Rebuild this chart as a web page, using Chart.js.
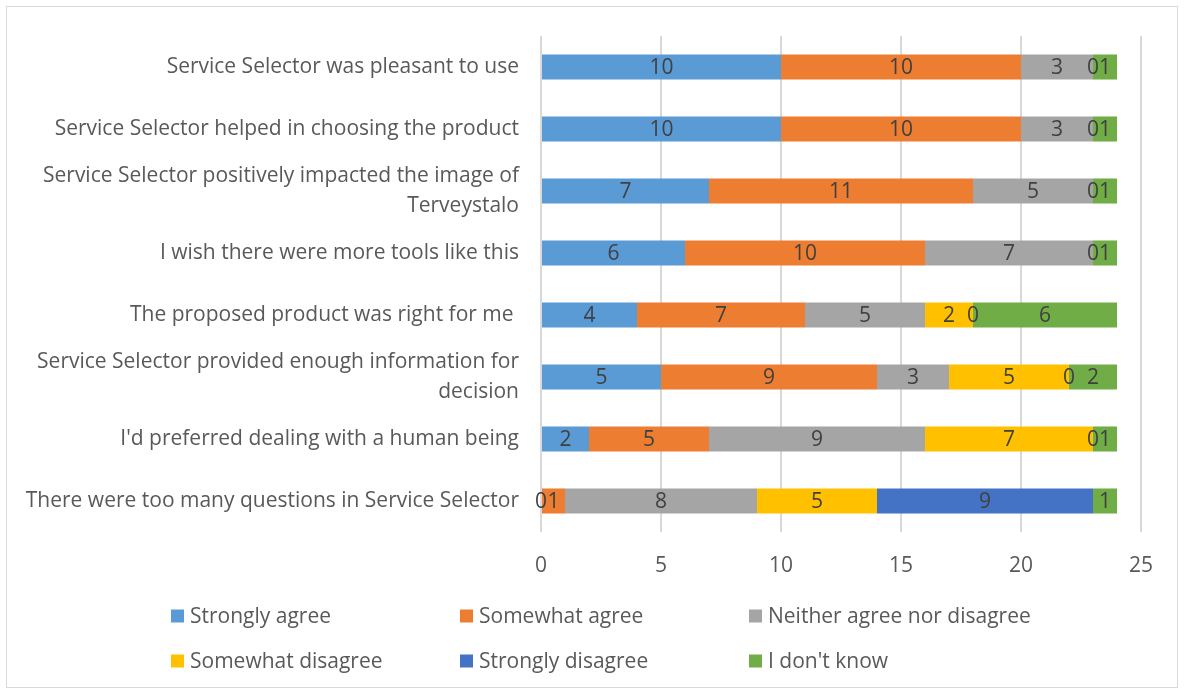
<!DOCTYPE html>
<html>
<head>
<meta charset="utf-8">
<script src="https://cdn.jsdelivr.net/npm/chart.js@4/dist/chart.umd.min.js"></script>
<style>
  html, body { margin: 0; padding: 0; background: #fff; }
  #frame {
    position: absolute; left: 6px; top: 6px;
    width: 1172px; height: 682px;
    border: 1px solid #d9d9d9; box-sizing: border-box;
  }
  #chart { display: block; }
</style>
</head>
<body>
<div id="frame"><canvas id="chart" width="1170" height="680"></canvas></div>
<script>
// survey statements, top to bottom
const categories = [
  'Service Selector was pleasant to use',
  'Service Selector helped in choosing the product',
  ['Service Selector positively impacted the image of', 'Terveystalo'],
  'I wish there were more tools like this',
  'The proposed product was right for me ',
  ['Service Selector provided enough information for', 'decision'],
  "I'd preferred dealing with a human being",
  'There were too many questions in Service Selector'
];

const seriesNames = ['Strongly agree', 'Somewhat agree', 'Neither agree nor disagree',
  'Somewhat disagree', 'Strongly disagree', "I don't know"];

const stronglyAgree    = [10, 10, 7, 6, 4, 5, 2, 0];
const somewhatAgree    = [10, 10, 11, 10, 7, 9, 5, 1];
const neitherAgree     = [3, 3, 5, 7, 5, 3, 9, 8];
const somewhatDisagree = [null, null, null, null, 2, 5, 7, 5];
const stronglyDisagree = [0, 0, 0, 0, 0, 0, 0, 9];
const dontKnow         = [1, 1, 1, 1, 6, 2, 1, 1];

const xTicks = [0, 5, 10, 15, 20, 25];

const colors = ['#5B9BD5', '#ED7D31', '#A5A5A5', '#FFC000', '#4472C4', '#70AD47'];
const FONT = '"Open Sans", "Noto Sans", sans-serif';
const SIZE = 21;

// value labels in the middle of each segment (zeros too, like Excel)
const valueLabels = {
  id: 'valueLabels',
  afterDatasetsDraw(chart) {
    const ctx = chart.ctx;
    ctx.save();
    ctx.font = SIZE + 'px ' + FONT;
    ctx.fillStyle = '#404040';
    ctx.textAlign = 'center';
    ctx.textBaseline = 'middle';
    chart.data.datasets.forEach((ds, i) => {
      chart.getDatasetMeta(i).data.forEach((bar, j) => {
        const v = ds.data[j];
        if (v === null || v === undefined) return;
        const p = bar.getProps(['x', 'y', 'base'], true);
        ctx.fillText(String(v), (p.x + p.base) / 2, p.y + 1);
      });
    });
    ctx.restore();
  }
};

// legend laid out as a 3-column grid under the axis
const gridLegend = {
  id: 'gridLegend',
  afterDraw(chart) {
    const ctx = chart.ctx;
    const colW = 289, rowH = 45, box = 13;
    const left = chart.width / 2 - 421;
    const top = chart.chartArea.bottom + 84;
    ctx.save();
    ctx.font = SIZE + 'px ' + FONT;
    ctx.textBaseline = 'middle';
    ctx.textAlign = 'left';
    chart.data.datasets.forEach((ds, i) => {
      const x = left + (i % 3) * colW;
      const y = top + Math.floor(i / 3) * rowH;
      ctx.fillStyle = ds.backgroundColor;
      ctx.fillRect(x, y - box / 2, box, box);
      ctx.fillStyle = '#595959';
      ctx.fillText(ds.label, x + box + 6, y + 1);
    });
    ctx.restore();
  }
};

const seriesData = [stronglyAgree, somewhatAgree, neitherAgree, somewhatDisagree, stronglyDisagree, dontKnow];

new Chart(document.getElementById('chart'), {
  type: 'bar',
  data: {
    labels: categories,
    datasets: seriesNames.map((name, i) => ({
      label: name,
      data: seriesData[i],
      backgroundColor: colors[i],
      borderWidth: 0,
      categoryPercentage: 0.8,
      barPercentage: 0.505
    }))
  },
  options: {
    indexAxis: 'y',
    responsive: false,
    animation: false,
    layout: { padding: { top: 29, right: 36, left: 0, bottom: 0 } },
    plugins: {
      legend: { display: false },
      tooltip: { enabled: false }
    },
    scales: {
      x: {
        stacked: true,
        min: 0,
        max: 25,
        afterBuildTicks: (scale) => { scale.ticks = xTicks.map(v => ({ value: v })); },
        afterFit: (scale) => { scale.height = 155; },
        grid: { color: '#d9d9d9', lineWidth: 2, drawTicks: false },
        border: { display: false },
        ticks: { font: { family: FONT, size: SIZE }, color: '#595959', padding: 21 }
      },
      y: {
        stacked: true,
        afterFit: (scale) => {
          scale.width = 534;
          // labels sit inside the category bands, no extra room needed above/below
          scale.paddingTop = 0;
          scale.paddingBottom = 0;
        },
        grid: { display: false, drawTicks: false },
        border: { display: false },
        ticks: { font: { family: FONT, size: SIZE, lineHeight: 1.45 }, color: '#595959', padding: 22, autoSkip: false }
      }
    }
  },
  plugins: [valueLabels, gridLegend]
});
</script>
</body>
</html>
